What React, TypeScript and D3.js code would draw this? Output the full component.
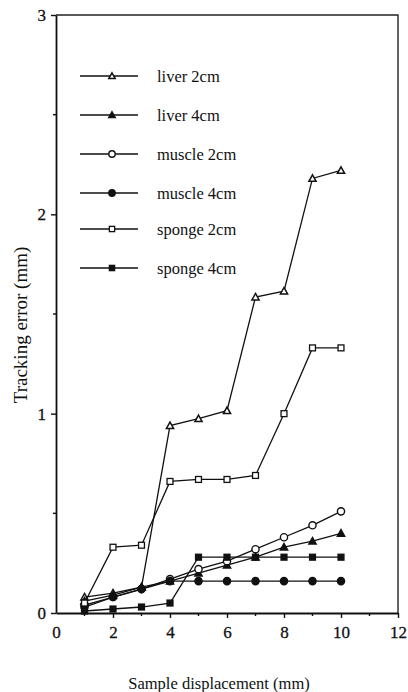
import React, { useEffect, useRef } from 'react'
import * as d3 from 'd3'

const displacement = [1, 2, 3, 4, 5, 6, 7, 8, 9, 10]

const liver2 = [0.08, 0.1, 0.13, 0.94, 0.975, 1.015, 1.585, 1.615, 2.18, 2.22]
const liver4 = [0.06, 0.09, 0.13, 0.16, 0.2, 0.24, 0.28, 0.33, 0.36, 0.4]
const muscle2 = [0.04, 0.08, 0.12, 0.17, 0.22, 0.26, 0.32, 0.38, 0.44, 0.51]
const muscle4 = [0.03, 0.08, 0.12, 0.16, 0.16, 0.16, 0.16, 0.16, 0.16, 0.16]
const sponge2 = [0.05, 0.33, 0.34, 0.66, 0.67, 0.67, 0.69, 1.0, 1.33, 1.33]
const sponge4 = [0.01, 0.02, 0.03, 0.05, 0.28, 0.28, 0.28, 0.28, 0.28, 0.28]

const seriesNames = ['liver 2cm', 'liver 4cm', 'muscle 2cm', 'muscle 4cm', 'sponge 2cm', 'sponge 4cm']
const seriesValues = [liver2, liver4, muscle2, muscle4, sponge2, sponge4]
const markerKinds = ['triangle', 'triangle', 'circle', 'circle', 'square', 'square']
const markerFilled = [false, true, false, true, false, true]

const xTicks = [0, 2, 4, 6, 8, 10, 12]
const yTicks = [0, 1, 2, 3]

export default function App() {
    const ref = useRef(null)

    useEffect(() => {
        const width = 408, height = 692
        const svg = d3.select(ref.current)
        svg.selectAll('*').remove()
        svg.attr('width', width).attr('height', height)
            .style('position', 'absolute').style('left', 0).style('top', 0)
            .style('font-family', '"Liberation Serif", "DejaVu Serif", serif')

        const x = d3.scaleLinear().domain([0, 12]).range([56, 398])
        const y = d3.scaleLinear().domain([0, 3]).range([613, 15])

        // frame top + right
        svg.append('path')
            .attr('d', `M${x(0)},${y(3)}H${x(12)}V${y(0)}`)
            .attr('fill', 'none').attr('stroke', '#222').attr('stroke-width', 1.4)

        // x axis
        const gx = svg.append('g').attr('transform', `translate(0,${y(0)})`)
        gx.call(d3.axisBottom(x).tickValues(xTicks).tickSize(5).tickPadding(8).tickSizeOuter(0))
        gx.selectAll('.tick').filter((d: any) => d === 0).select('line').attr('y2', 0)
        gx.selectAll('g.minor').data(d3.range(1, 12, 2)).enter().append('line')
            .attr('x1', d => x(d)).attr('x2', d => x(d)).attr('y1', 0).attr('y2', 3)
            .attr('stroke', '#111').attr('stroke-width', 1.4)

        // y axis
        const gy = svg.append('g').attr('transform', `translate(${x(0)},0)`)
        gy.call(d3.axisLeft(y).tickValues(yTicks).tickSize(5).tickPadding(5).tickSizeOuter(0).tickFormat(d3.format('d')))
        gy.selectAll('g.minor').data([0.5, 1.5, 2.5]).enter().append('line')
            .attr('x1', 0).attr('x2', -3).attr('y1', d => y(d)).attr('y2', d => y(d))
            .attr('stroke', '#111').attr('stroke-width', 1.4)

        for (const g of [gx, gy]) {
            g.attr('font-size', 17).attr('font-family', '"Liberation Serif", serif')
            g.select('.domain').attr('stroke', '#111').attr('stroke-width', 1.8)
            g.selectAll('.tick line').attr('stroke', '#111').attr('stroke-width', 1.4)
            g.selectAll('.tick text').attr('fill', '#111').attr('stroke', '#111').attr('stroke-width', 0.3)
        }

        const drawMarker = (g: any, kind: string, filled: boolean, cx: number, cy: number, s: number) => {
            const fill = filled ? '#111' : '#fff'
            if (kind === 'circle') {
                g.append('circle').attr('cx', cx).attr('cy', cy).attr('r', s)
                    .attr('fill', fill).attr('stroke', '#111').attr('stroke-width', 1.4)
            } else if (kind === 'square') {
                const h = s * 0.82
                g.append('rect').attr('x', cx - h).attr('y', cy - h).attr('width', 2 * h).attr('height', 2 * h)
                    .attr('fill', fill).attr('stroke', '#111').attr('stroke-width', 1.3)
            } else {
                const h = s
                g.append('path').attr('d', `M${cx},${cy - h}L${cx + h},${cy + h * 0.8}L${cx - h},${cy + h * 0.8}Z`)
                    .attr('fill', fill).attr('stroke', '#111').attr('stroke-width', 1.5)
            }
        }

        const line = d3.line<number>().x((d, i) => x(displacement[i])).y(d => y(d))

        seriesValues.forEach((vals, si) => {
            const g = svg.append('g')
            g.append('path').datum(vals).attr('d', line)
                .attr('fill', 'none').attr('stroke', '#111').attr('stroke-width', 1.3)
            vals.forEach((v, i) => drawMarker(g, markerKinds[si], markerFilled[si], x(displacement[i]), y(v), 3.6))
        })

        // legend
        const legendY = [76, 115, 154, 193, 229, 268]
        seriesNames.forEach((name, i) => {
            const g = svg.append('g')
            g.append('line').attr('x1', 80).attr('x2', 138).attr('y1', legendY[i]).attr('y2', legendY[i])
                .attr('stroke', '#111').attr('stroke-width', 1.4)
            drawMarker(g, markerKinds[i], markerFilled[i], 112, legendY[i], 3.2)
            g.append('text').attr('x', 157).attr('y', legendY[i] + 6).attr('font-size', 16.5)
                .attr('fill', '#111').text(name)
        })

        // axis titles
        svg.append('text').attr('transform', `translate(27,325) rotate(-90)`)
            .attr('text-anchor', 'middle').attr('font-size', 19).attr('fill', '#111')
            .text('Tracking error (mm)')
        svg.append('text').attr('x', 219).attr('y', 689)
            .attr('text-anchor', 'middle').attr('font-size', 16.5).attr('fill', '#111')
            .text('Sample displacement (mm)')
    }, [])

    return <svg ref={ref} />
}
